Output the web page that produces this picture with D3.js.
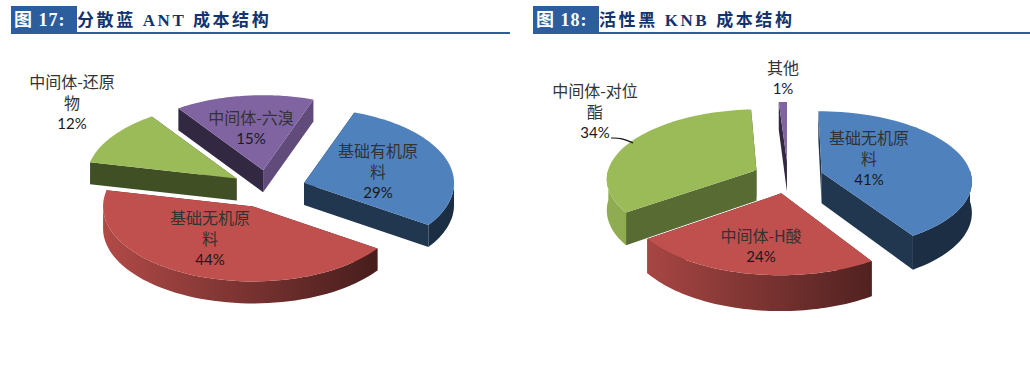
<!DOCTYPE html>
<html lang="zh">
<head>
<meta charset="utf-8">
<title>成本结构</title>
<script src="https://d3js.org/d3.v7.min.js"></script>
<style>
	html, body { margin: 0; padding: 0; background: #fff; }
	svg { display: block; }
	.fig-no { font-family: "Liberation Serif", "Noto Sans CJK SC"; font-weight: bold; font-size: 18px; fill: #fff; letter-spacing: 1px; }
	.fig-title { font-family: "Liberation Serif", "Noto Sans CJK SC"; font-weight: bold; font-size: 17px; fill: #12336f; letter-spacing: 2.6px; }
	.lbl { font-family: "Noto Sans CJK SC"; font-size: 16px; fill: #333; text-anchor: middle; }
	.pct { font-family: Lato, "Open Sans"; font-size: 15px; fill: #1a1a1a; }
</style>
</head>
<body>
<svg id="chart" width="1030" height="389"></svg>
<script>
// chart values
const antNames = ["基础有机原料", "基础无机原料", "中间体-还原物", "中间体-六溴"];
const antValues = [29, 44, 12, 15];
const knbNames = ["基础无机原料", "中间体-H酸", "中间体-对位酯", "其他"];
const knbValues = [41, 24, 34, 1];

const antLines = [["基础有机原", "料"], ["基础无机原", "料"], ["中间体-还原", "物"], ["中间体-六溴"]];
const knbLines = [["基础无机原", "料"], ["中间体-H酸"], ["中间体-对位", "酯"], ["其他"]];

const sliceColors = ["#4f81bd", "#c0504d", "#9bbb59", "#8064a2"];

const svg = d3.select("#chart");
const defs = svg.append("defs");

function header(x0, x1, no, title) {
	svg.append("rect").attr("x", x0).attr("y", 32).attr("width", x1 - x0).attr("height", 2).attr("fill", "#2c5e9e");
	svg.append("rect").attr("x", x0).attr("y", 6).attr("width", 66).attr("height", 27).attr("fill", "#2c5e9e");
	svg.append("text").attr("class", "fig-no").attr("x", x0 + 3).attr("y", 26).attr("xml:space", "preserve").text(no);
	svg.append("text").attr("class", "fig-title").attr("x", x0 + 66).attr("y", 26).attr("xml:space", "preserve").text(title);
}

function shade(c, k) {
	const r = d3.rgb(c);
	return d3.rgb(r.r * k, r.g * k, r.b * k).formatHex();
}

// draws one exploded 3d pie. o holds the projection settings
function pie3d(id, names, values, colors, o) {
	const arcs = d3.pie().sort(null).value(d => d)
		.startAngle(o.start).endAngle(o.start + 2 * Math.PI)(values);

	// ground plane to screen, k gives the perspective
	const project = function(gx, gy) {
		const w = 1 + o.k * gy;
		return { x: o.cx + o.R * gx / w, y: o.cy - o.Q * gy / w, d: o.depth / w };
	};
	const line = d3.line().x(p => p.x).y(p => p.y);

	const slices = arcs.map(function(a, i) {
		const mid = (a.startAngle + a.endAngle) / 2;
		return {
			i: i, a: a,
			ox: o.explode * Math.sin(mid),
			oy: o.explode * Math.cos(mid)
		};
	}).sort((p, q) => q.oy - p.oy);

	slices.forEach(function(s) {
		const g = svg.append("g").attr("class", "slice").attr("data-name", names[s.i]);
		const col = colors[s.i];
		const thetas = d3.range(0, 61).map(t => s.a.startAngle + (s.a.endAngle - s.a.startAngle) * t / 60);
		const rim = thetas.map(t => project(s.ox + Math.sin(t), s.oy + Math.cos(t)));
		const apex = project(s.ox, s.oy);

		// side walls along the two cuts, the nearer one goes last
		const walls = [
			{ end: rim[0], k: o.wallShade[s.i][0] },
			{ end: rim[60], k: o.wallShade[s.i][1] }
		].sort((p, q) => p.end.y - q.end.y);
		walls.forEach(function(w) {
			g.append("path")
				.attr("d", line([apex, w.end, { x: w.end.x, y: w.end.y + w.end.d }, { x: apex.x, y: apex.y + apex.d }]) + "Z")
				.attr("fill", shade(col, w.k));
		});

		// outer rim, only the part turned to the viewer, darker towards the right
		const front = rim.filter((p, n) => Math.cos(thetas[n]) < 0.03);
		if (front.length > 1) {
			const gid = id + "-rim-" + s.i;
			const grad = defs.append("linearGradient").attr("id", gid)
				.attr("gradientUnits", "userSpaceOnUse")
				.attr("x1", o.cx - o.R * 1.1).attr("x2", o.cx + o.R * 0.75).attr("y1", 0).attr("y2", 0);
			grad.append("stop").attr("offset", 0).attr("stop-color", shade(col, 0.92));
			grad.append("stop").attr("offset", 1).attr("stop-color", shade(col, 0.36));
			const low = front.map(p => ({ x: p.x, y: p.y + p.d })).reverse();
			g.append("path")
				.attr("d", line(front.concat(low)) + "Z")
				.attr("fill", "url(#" + gid + ")");
		}

		// top face
		g.append("path")
			.attr("d", line([apex].concat(rim)) + "Z")
			.attr("fill", col);
	});
}

function label(lines, pct, x, y) {
	const t = svg.append("text").attr("class", "lbl").attr("y", y);
	lines.forEach(function(s, i) {
		t.append("tspan").attr("x", x).attr("dy", i ? 21 : 0).text(s);
	});
	t.append("tspan").attr("class", "pct").attr("x", x).attr("dy", 20).text(pct + "%");
}

header(11, 510, "图 17:", "分散蓝 ANT 成本结构");
header(533, 1030, "图 18:", "活性黑 KNB 成本结构");

pie3d("ant", antNames, antValues, sliceColors, {
	cx: 268, cy: 189, R: 150, Q: 75, k: 0, depth: 22, explode: 0.253,
	start: 19.6 * Math.PI / 180,
	wallShade: [[0.4, 0.42], [0.4, 0.4], [0.42, 0.4], [0.4, 0.75]]
});
pie3d("knb", knbNames, knbValues, sliceColors, {
	cx: 788, cy: 177, R: 150, Q: 69, k: 0.11, depth: 31, explode: 0.235,
	start: 0,
	wallShade: [[0.4, 0.42], [0.4, 0.4], [0.57, 0.4], [0.4, 0.6]]
});

label(antLines[0], antValues[0], 378, 157);
label(antLines[1], antValues[1], 210, 224);
label(antLines[2], antValues[2], 72, 88);
label(antLines[3], antValues[3], 251, 124);
label(knbLines[0], knbValues[0], 869, 144);
label(knbLines[1], knbValues[1], 761, 242);
label(knbLines[2], knbValues[2], 595, 97);
label(knbLines[3], knbValues[3], 783, 74);

// leader line for the 34% label
svg.append("path")
	.attr("d", d3.line().curve(d3.curveBasis)([[611, 138], [622, 138], [633, 143]]))
	.attr("fill", "none").attr("stroke", "#111").attr("stroke-width", 1.2);
</script>
</body>
</html>
